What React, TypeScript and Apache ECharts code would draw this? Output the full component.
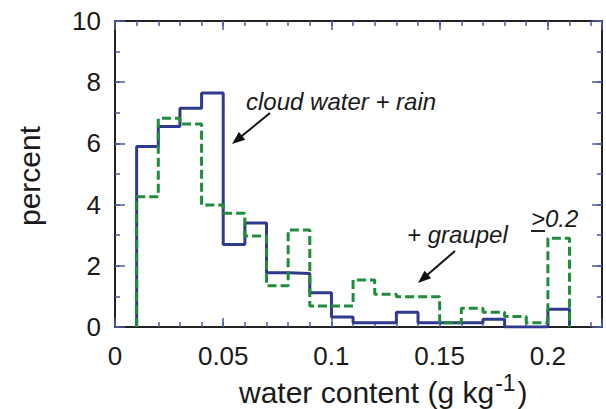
import React, { useEffect, useRef } from "react";
import * as echarts from "echarts";

// ---- data ----
const binWidth = 0.01;
const binStarts = [0.01, 0.02, 0.03, 0.04, 0.05, 0.06, 0.07, 0.08, 0.09, 0.1, 0.11, 0.12, 0.13, 0.14, 0.15, 0.16, 0.17, 0.18, 0.19, 0.2];
const cloudRain = [5.9, 6.55, 7.15, 7.65, 2.7, 3.4, 1.77, 1.75, 1.12, 0.33, 0.14, 0.14, 0.48, 0.14, 0.14, 0.14, 0.25, 0, 0, 0.58];
const withGraupel = [4.26, 6.82, 6.63, 3.99, 3.72, 2.97, 1.35, 3.17, 0.69, 0.69, 1.54, 1.07, 0.99, 0.99, 0.14, 0.61, 0.48, 0.34, 0.14, 2.9];
const xTickLabels = ["0", "0.05", "0.1", "0.15", "0.2"];
const yTickLabels = ["0", "2", "4", "6", "8", "10"];

const X_MIN = 0, X_MAX = 0.225, Y_MIN = 0, Y_MAX = 10;
const FONT = "'Liberation Sans', Arial, Helvetica, sans-serif";
const TICK_COLOR = "#4b5ba3";
const BLUE = "#2e3a8e";
const GREEN = "#1f8b3b";
const TEXT = "#1a1a1a";

function stepData(vals: number[]) {
  const pts: number[][] = [[binStarts[0], 0]];
  vals.forEach((v, i) => pts.push([+(binStarts[i] + binWidth).toFixed(4), v]));
  pts.push([+(binStarts[binStarts.length - 1] + binWidth).toFixed(4), 0]);
  return pts;
}

function arrow(x1: number, y1: number, x2: number, y2: number) {
  const dx = x2 - x1, dy = y2 - y1;
  const len = Math.sqrt(dx * dx + dy * dy);
  const ux = dx / len, uy = dy / len;
  const nx = -uy, ny = ux;
  const L = 13, W = 10;
  const bx = x2 - ux * L, by = y2 - uy * L;
  return [
    { type: "line", shape: { x1, y1, x2: bx + ux * 2, y2: by + uy * 2 }, style: { stroke: "#111", lineWidth: 2 } },
    {
      type: "polygon",
      shape: { points: [[x2, y2], [bx + nx * W / 2, by + ny * W / 2], [bx - nx * W / 2, by - ny * W / 2]] },
      style: { fill: "#111" },
    },
  ];
}

function xAxis(position: string, interval: number, major: boolean, labels: boolean) {
  return {
    type: "value",
    position,
    min: X_MIN,
    max: X_MAX,
    interval,
    axisLine: { show: major, onZero: false, lineStyle: { color: "#222", width: 2 } },
    axisTick: { show: true, inside: true, length: major ? 9 : 5, lineStyle: { color: TICK_COLOR, width: 1.5 } },
    axisLabel: {
      show: labels,
      fontSize: 26,
      fontFamily: FONT,
      color: TEXT,
      margin: 16,
      formatter: (v: number) => {
        const idx = Math.round(v / 0.05);
        return Math.abs(v - idx * 0.05) < 1e-6 && idx < xTickLabels.length ? xTickLabels[idx] : "";
      },
    },
    splitLine: { show: false },
  };
}

function yAxis(position: string, interval: number, major: boolean, labels: boolean) {
  return {
    type: "value",
    position,
    min: Y_MIN,
    max: Y_MAX,
    interval,
    axisLine: { show: major, onZero: false, lineStyle: { color: "#222", width: 2 } },
    axisTick: { show: true, inside: true, length: major ? 10 : 5, lineStyle: { color: TICK_COLOR, width: 1.5 } },
    axisLabel: {
      show: labels,
      fontSize: 26,
      fontFamily: FONT,
      color: TEXT,
      margin: 14,
      padding: [0, 0, 6, 0],
      formatter: (v: number) => {
        const idx = Math.round(v / 2);
        return yTickLabels[idx] ?? "";
      },
    },
    splitLine: { show: false },
  };
}

export default function App() {
  const ref = useRef<HTMLDivElement>(null);
  useEffect(() => {
    if (!ref.current) return;
    const chart = echarts.init(ref.current, undefined, { renderer: "svg" });
    chart.setOption({
      animation: false,
      backgroundColor: "#fff",
      grid: { left: 115, right: 4, top: 21, bottom: 82, containLabel: false, outerBoundsMode: "none" },
      xAxis: [
        xAxis("bottom", 0.05, true, true),
        xAxis("bottom", 0.01, false, false),
        xAxis("top", 0.05, true, false),
        xAxis("top", 0.01, false, false),
      ],
      yAxis: [
        yAxis("left", 2, true, true),
        yAxis("left", 1, false, false),
        yAxis("right", 2, true, false),
        yAxis("right", 1, false, false),
      ],
      series: [
        {
          name: "cloud water + rain",
          type: "line",
          step: "start",
          data: stepData(cloudRain),
          xAxisIndex: 0,
          yAxisIndex: 0,
          symbol: "none",
          showSymbol: false,
          lineStyle: { color: BLUE, width: 3 },
          z: 2,
        },
        {
          name: "+ graupel",
          type: "line",
          step: "start",
          data: stepData(withGraupel),
          xAxisIndex: 0,
          yAxisIndex: 0,
          symbol: "none",
          showSymbol: false,
          lineStyle: { color: GREEN, width: 3, type: [9, 4] },
          z: 3,
        },
      ],
      graphic: [
        {
          type: "text",
          x: 246,
          y: 101,
          style: { text: "cloud water + rain", font: `italic 24px ${FONT}`, fill: TEXT, align: "left", verticalAlign: "middle" },
        },
        ...arrow(270, 113, 232, 144),
        {
          type: "text",
          x: 407,
          y: 234,
          style: { text: "+ graupel", font: `italic 24px ${FONT}`, fill: TEXT, align: "left", verticalAlign: "middle" },
        },
        ...arrow(455, 251, 418, 283),
        {
          type: "text",
          x: 531,
          y: 218,
          style: { text: ">0.2", font: `italic 24px ${FONT}`, fill: TEXT, align: "left", verticalAlign: "middle" },
        },
        { type: "line", shape: { x1: 531, y1: 231, x2: 545, y2: 231 }, style: { stroke: "#222", lineWidth: 2 } },
        {
          type: "text",
          x: 29,
          y: 176,
          rotation: Math.PI / 2,
          style: { text: "percent", font: `30px ${FONT}`, fill: TEXT, align: "center", verticalAlign: "middle" },
        },
        {
          type: "text",
          x: 239,
          y: 389,
          style: {
            text: "{a|water content (g kg}{s|-1}{a|)}",
            align: "left",
            verticalAlign: "middle",
            rich: {
              a: { fontSize: 30, fontFamily: FONT, fill: TEXT, color: TEXT, lineHeight: 36, verticalAlign: "bottom" },
              s: { fontSize: 23, fontFamily: FONT, fill: TEXT, color: TEXT, lineHeight: 36, verticalAlign: "top", padding: [0, 2, 0, 1] },
            },
          },
        },
      ],
    });
    return () => chart.dispose();
  }, []);
  return <div ref={ref} style={{ position: "fixed", left: 0, top: 0, width: 606, height: 409 }} />;
}
